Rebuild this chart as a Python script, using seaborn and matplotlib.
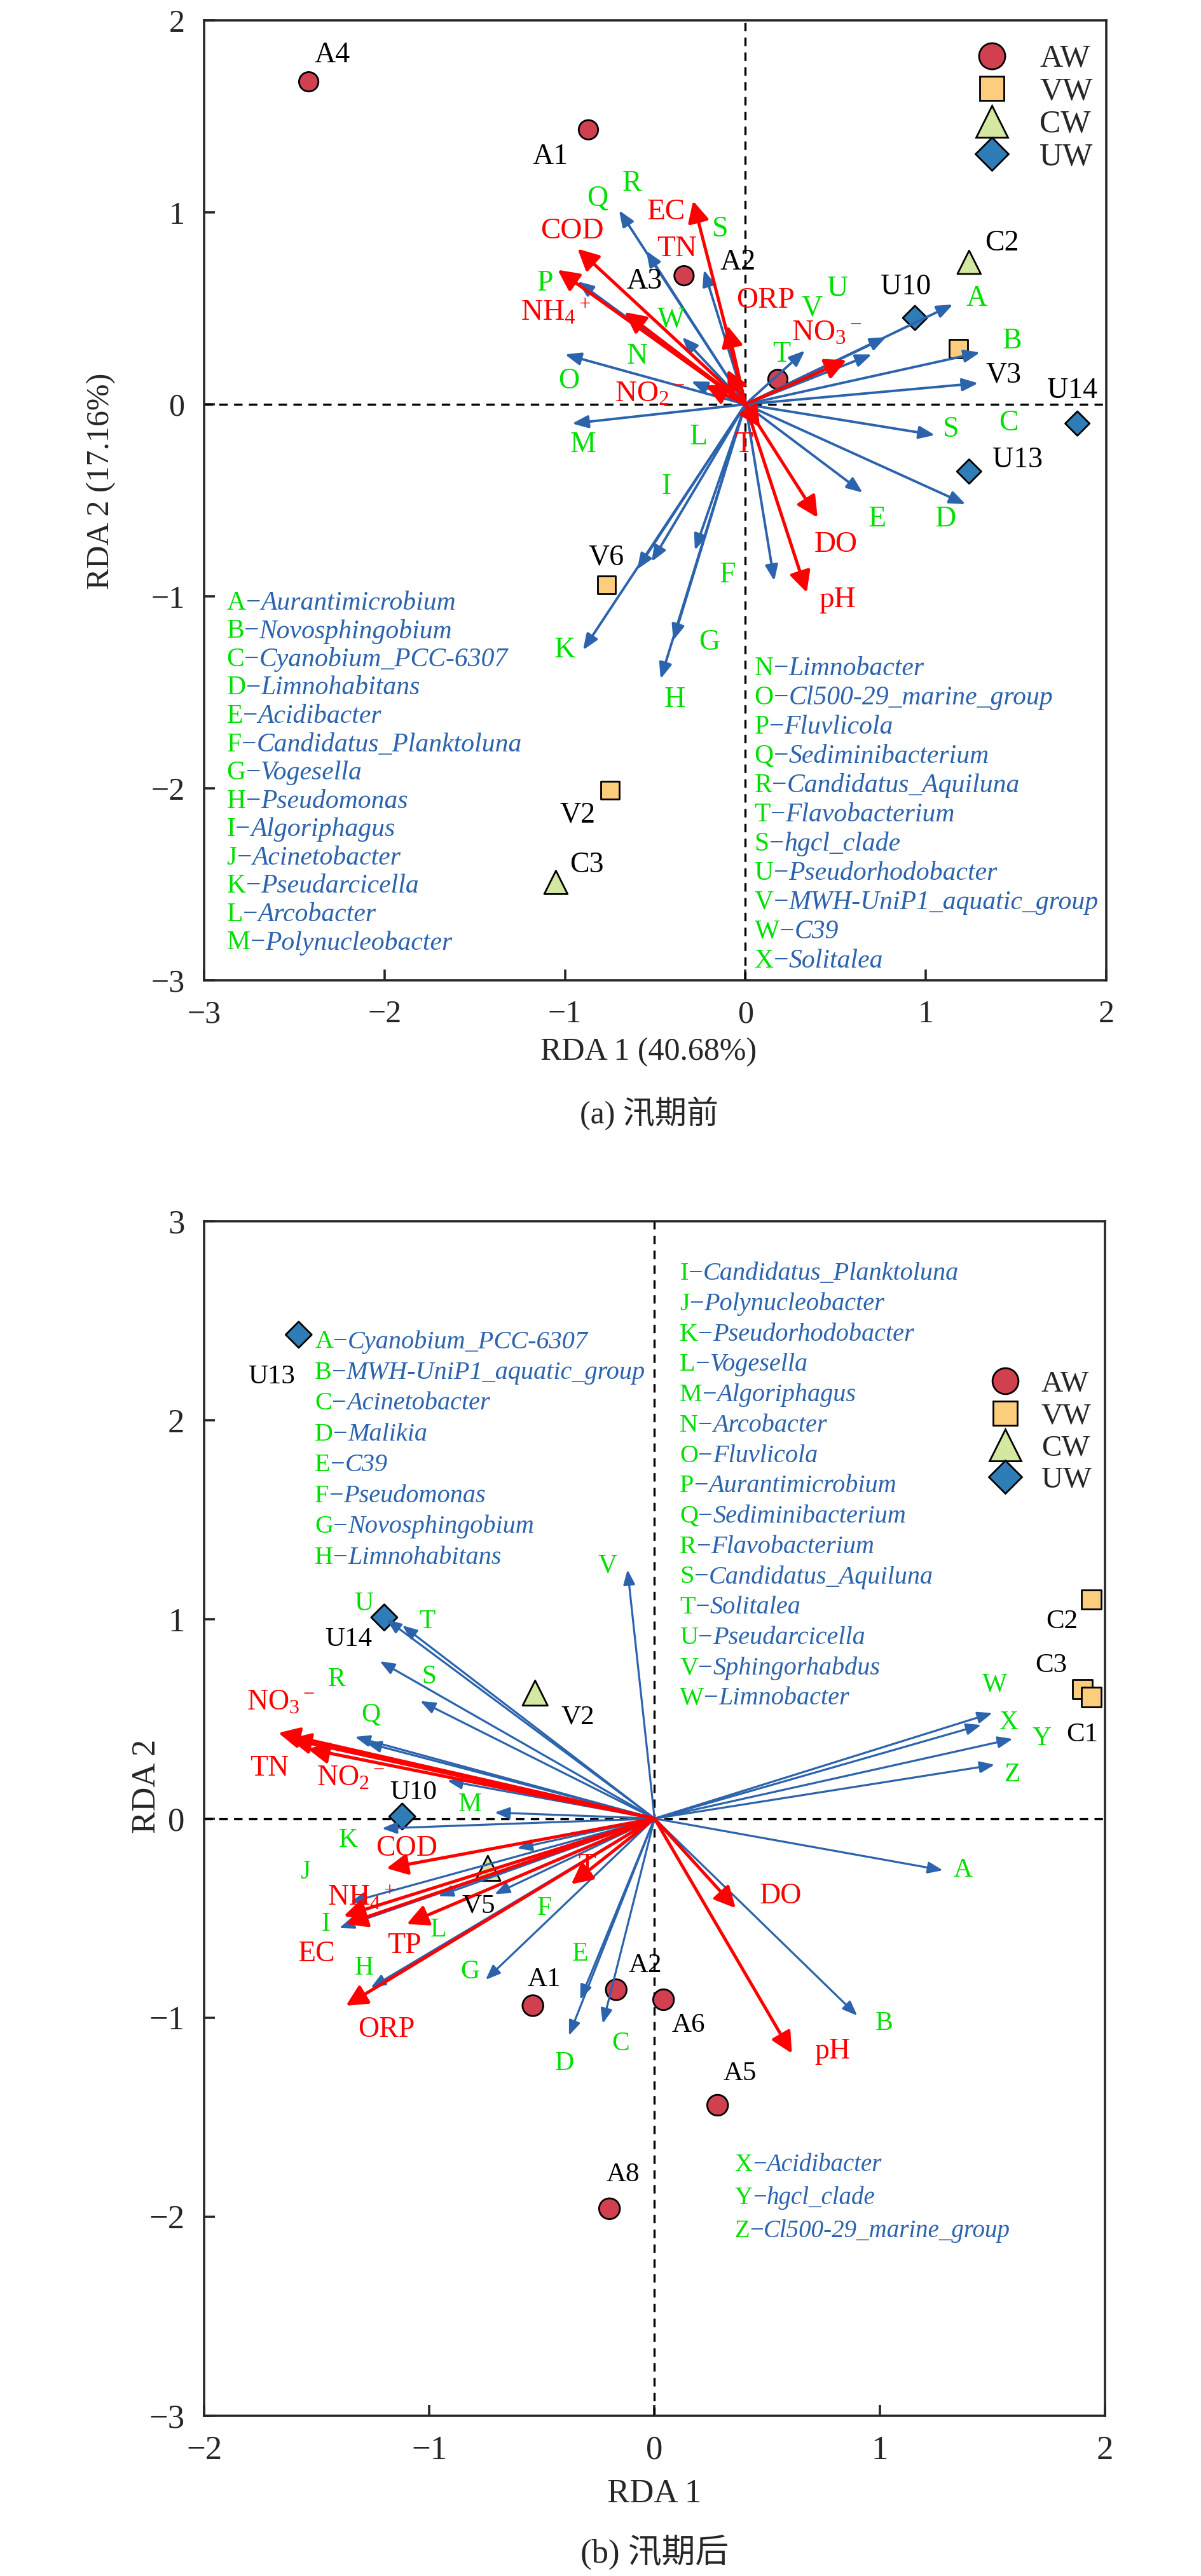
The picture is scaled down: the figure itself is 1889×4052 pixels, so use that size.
import numpy as np
import pandas as pd
import matplotlib
matplotlib.use("Agg")
import matplotlib.pyplot as plt
import seaborn as sns

# ── data: panel (a) 汛期前 ───────────────────────────────────────────────────
a_site  = ["A4", "A1", "A3", "A2", "C2", "U10", "V3", "U14", "U13", "V6", "V2", "C3"]
a_group = ["AW", "AW", "AW", "AW", "CW", "UW", "VW", "UW", "UW", "VW", "VW", "CW"]
a_x     = [-2.42, -0.87, -0.34, 0.18, 1.24, 0.94, 1.18, 1.84, 1.24, -0.77, -0.75, -1.05]
a_y     = [1.68, 1.43, 0.67, 0.13, 0.74, 0.45, 0.29, -0.10, -0.35, -0.94, -2.01, -2.49]

a_sp    = ["A", "B", "C", "D", "E", "F", "G", "H", "I", "J", "K", "L", "M",
           "N", "O", "P", "Q", "R", "S", "T", "U", "V", "W", "S"]
a_sp_x  = [1.15, 1.30, 1.29, 1.22, 0.65, 0.16, -0.28, -0.47, -0.52, -0.60, -0.90, -0.40, -0.96,
           -0.30, -1.00, -0.93, -0.70, -0.55, -0.23, 0.33, 0.70, 0.78, -0.35, 1.05]
a_sp_y  = [0.52, 0.27, 0.11, -0.52, -0.46, -0.92, -0.76, -1.43, -0.82, -0.86, -1.28, -1.23, -0.10,
           0.12, 0.26, 0.64, 1.01, 0.80, 0.70, 0.28, 0.26, 0.35, 0.35, -0.16]

a_env   = ["COD", "EC", "TN", "NH$_4$$^+$", "ORP", "NO$_3$$^-$", "NO$_2$$^-$", "T", "DO", "pH", ""]
a_env_x = [-0.93, -0.29, -0.67, -1.04, -0.10, 0.56, -0.22, 0.08, 0.40, 0.34, -0.10]
a_env_y = [0.81, 1.06, 0.48, 0.70, 0.41, 0.23, 0.10, -0.12, -0.59, -0.98, 0.18]

a_list1_letters = list("ABCDEFGHIJKLM")
a_list1_names = ["Aurantimicrobium", "Novosphingobium", "Cyanobium_PCC-6307", "Limnohabitans",
                 "Acidibacter", "Candidatus_Planktoluna", "Vogesella", "Pseudomonas",
                 "Algoriphagus", "Acinetobacter", "Pseudarcicella", "Arcobacter",
                 "Polynucleobacter"]
a_list2_letters = list("NOPQRTSUVWX")
a_list2_names = ["Limnobacter", "Cl500-29_marine_group", "Fluvlicola", "Sediminibacterium",
                 "Candidatus_Aquiluna", "Flavobacterium", "hgcl_clade", "Pseudorhodobacter",
                 "MWH-UniP1_aquatic_group", "C39", "Solitalea"]

# ── data: panel (b) 汛期后 ───────────────────────────────────────────────────
b_site  = ["U13", "U14", "V2", "U10", "V5", "A1", "A2", "A6", "A5", "C3", "C1", "C2", "A8"]
b_group = ["UW", "UW", "CW", "UW", "CW", "AW", "AW", "AW", "AW", "VW", "VW", "VW", "AW"]
b_x     = [-1.58, -1.20, -0.53, -1.12, -0.74, -0.54, -0.17, 0.04, 0.28, 1.90, 1.94, 1.94, -0.20]
b_y     = [2.43, 1.01, 0.63, 0.01, -0.25, -0.94, -0.86, -0.91, -1.44, 0.65, 0.61, 1.10, -1.96]

b_sp    = list("ABCDEFGHIJKLMNOPQRSTUVWXYZ")
b_sp_x  = [1.28, 0.90, -0.23, -0.38, -0.33, -0.71, -0.75, -1.26, -1.40, -1.35, -1.21, -0.96, -0.71,
           -0.61, -0.92, -1.28, -1.33, -1.22, -1.04, -1.12, -1.19, -0.12, 1.50, 1.45, 1.59, 1.51]
b_sp_y  = [-0.26, -0.99, -1.03, -1.09, -0.91, -0.38, -0.81, -0.85, -0.55, -0.42, -0.05, -0.39, 0.03,
           -0.15, 0.19, 0.38, 0.41, 0.79, 0.59, 0.97, 1.00, 1.25, 0.53, 0.47, 0.40, 0.27]

b_env   = ["NO$_3$$^-$", "TN", "NO$_2$$^-$", "COD", "NH$_4$$^+$", "EC", "TP", "ORP", "T", "DO", "pH"]
b_env_x = [-1.67, -1.54, -1.62, -1.19, -1.38, -1.37, -1.10, -1.37, -0.37, 0.36, 0.61]
b_env_y = [0.43, 0.35, 0.40, -0.25, -0.49, -0.53, -0.53, -0.94, -0.33, -0.45, -1.18]

b_list1_letters = list("ABCDEFGH")
b_list1_names = ["Cyanobium_PCC-6307", "MWH-UniP1_aquatic_group", "Acinetobacter", "Malikia",
                 "C39", "Pseudomonas", "Novosphingobium", "Limnohabitans"]
b_list2_letters = list("IJKLMNOPQRSTUVW")
b_list2_names = ["Candidatus_Planktoluna", "Polynucleobacter", "Pseudorhodobacter", "Vogesella",
                 "Algoriphagus", "Arcobacter", "Fluvlicola", "Aurantimicrobium",
                 "Sediminibacterium", "Flavobacterium", "Candidatus_Aquiluna", "Solitalea",
                 "Pseudarcicella", "Sphingorhabdus", "Limnobacter"]
b_list3_letters = list("XYZ")
b_list3_names = ["Acidibacter", "hgcl_clade", "Cl500-29_marine_group"]

groups = ["AW", "VW", "CW", "UW"]

# ── layout: label placement (data coords) ───────────────────────────────────
a_site_lab = {"A4": (-2.29, 1.82), "A1": (-1.08, 1.29), "A3": (-0.56, 0.64), "A2": (-0.04, 0.74),
              "C2": (1.42, 0.84), "U10": (0.89, 0.61), "V3": (1.43, 0.15), "U14": (1.81, 0.07),
              "U13": (1.51, -0.29), "V6": (-0.77, -0.80), "V2": (-0.93, -2.14), "C3": (-0.88, -2.40)}
a_sp_lab = [(1.28, 0.55), (1.48, 0.33), (1.46, -0.10), (1.11, -0.60), (0.73, -0.60), (-0.10, -0.89),
            (-0.20, -1.24), (-0.39, -1.54), (-0.44, -0.43), None, (-1.00, -1.28), (-0.26, -0.17),
            (-0.90, -0.21), (-0.60, 0.25), (-0.98, 0.12), (-1.11, 0.63), (-0.82, 1.07), (-0.63, 1.15),
            (-0.14, 0.91), (0.20, 0.26), (0.51, 0.60), (0.37, 0.50), (-0.41, 0.44), (1.14, -0.13)]
a_env_lab = [(-0.96, 0.90), (-0.44, 1.00), (-0.38, 0.81), (-1.05, 0.48), (0.11, 0.54), (0.45, 0.37),
             (-0.53, 0.05), (-0.01, -0.21), (0.50, -0.73), (0.51, -1.02), None]

b_site_lab = {"U13": (-1.70, 2.22), "U14": (-1.36, 0.90), "V2": (-0.34, 0.51), "U10": (-1.07, 0.13),
              "V5": (-0.78, -0.44), "A1": (-0.49, -0.81), "A2": (-0.04, -0.74), "A6": (0.15, -1.04),
              "A5": (0.38, -1.28), "C3": (1.76, 0.77), "C1": (1.90, 0.42), "C2": (1.81, 0.99),
              "A8": (-0.14, -1.79)}
b_sp_lab = [(1.37, -0.26), (1.02, -1.03), (-0.15, -1.13), (-0.40, -1.23), (-0.33, -0.68), (-0.49, -0.45),
            (-0.82, -0.77), (-1.29, -0.75), (-1.46, -0.53), (-1.55, -0.27), (-1.36, -0.11), (-0.96, -0.56),
            (-0.82, 0.07), None, None, None, (-1.26, 0.52), (-1.41, 0.70), (-1.00, 0.71), (-1.01, 0.99),
            (-1.29, 1.08), (-0.21, 1.27), (1.51, 0.67), (1.57, 0.48), (1.72, 0.40), (1.59, 0.22)]
b_env_lab = [(-1.66, 0.58), (-1.71, 0.25), (-1.35, 0.20), (-1.10, -0.15), (-1.30, -0.40), (-1.50, -0.68),
             (-1.11, -0.64), (-1.19, -1.06), (-0.30, -0.24), (0.56, -0.39), (0.79, -1.17)]

# ── style ────────────────────────────────────────────────────────────────────
sns.set_style("ticks")
plt.rcParams["font.family"] = ["Liberation Serif", "Noto Sans CJK SC"]
plt.rcParams["mathtext.fontset"] = "custom"
plt.rcParams["mathtext.rm"] = "Liberation Serif"
plt.rcParams["mathtext.it"] = "Liberation Serif:italic"
plt.rcParams["axes.unicode_minus"] = True

GREEN = "#00E000"
BLUE = "#2B63AC"
RED = "#FF0000"
palette = {"AW": "#D1404F", "VW": "#FDCD7E", "CW": "#D3E8A1", "UW": "#2F7DB6"}
markers = {"AW": "o", "VW": "s", "CW": "^", "UW": "D"}
msizes = {"AW": 480, "VW": 420, "CW": 700, "UW": 380}


def draw_arrows(ax, xs, ys, color, lw, hl, hw, z):
    for x, y in zip(xs, ys):
        ax.annotate("", xy=(x, y), xytext=(0, 0), zorder=z,
                    arrowprops=dict(arrowstyle=f"-|>,head_length={hl},head_width={hw}",
                                    color=color, lw=lw, shrinkA=0, shrinkB=0,
                                    mutation_scale=10))


def labels(ax, texts, pos, color, fs):
    for t, p in zip(texts, pos):
        if p is None or not t:
            continue
        ax.text(p[0], p[1], t, color=color, fontsize=fs, ha="center", va="center", zorder=7)


def species_list(ax, letters, names, x0, y0, dy, fs):
    for i, (let, name) in enumerate(zip(letters, names)):
        t = ax.text(x0, y0 - i * dy, let, transform=ax.transAxes, color=GREEN,
                    fontsize=fs, ha="left", va="center", zorder=7)
        d = ax.annotate("\u2212", xy=(1, 0.5), xycoords=t, color=BLUE, fontsize=fs,
                        ha="left", va="center", zorder=7)
        ax.annotate(name, xy=(1, 0.5), xycoords=d, color=BLUE, fontsize=fs,
                    style="italic", ha="left", va="center", zorder=7)


def base_axes(ax, xlim, ylim, fs):
    ax.axhline(0, color="black", lw=2.4, ls=(0, (4, 3)), zorder=1)
    ax.axvline(0, color="black", lw=2.4, ls=(0, (4, 3)), zorder=1)
    ax.set_xlim(*xlim)
    ax.set_ylim(*ylim)
    ax.set_xticks(np.arange(xlim[0], xlim[1] + 1))
    ax.set_yticks(np.arange(ylim[0], ylim[1] + 1))
    for s in ax.spines.values():
        s.set_linewidth(2.6)
        s.set_visible(True)
    ax.tick_params(direction="in", length=12, width=2.6, labelsize=fs, pad=22,
                   top=False, right=False)


fig = plt.figure(figsize=(18.9, 40.52), dpi=100)
W, H = 1890, 4052
ax_a = fig.add_axes([321 / W, 1 - 1542 / H, 1419 / W, 1510 / H])
ax_b = fig.add_axes([321 / W, 1 - 3800 / H, 1417 / W, 1879 / H])

# ── panel (a) ────────────────────────────────────────────────────────────────
base_axes(ax_a, (-3, 2), (-3, 2), 36)
df_a = pd.DataFrame({"x": a_x, "y": a_y, "group": a_group, "site": a_site})
sns.scatterplot(data=df_a, x="x", y="y", hue="group", style="group", size="group",
                hue_order=groups, style_order=groups, size_order=groups,
                palette=palette, markers=markers, sizes=msizes,
                edgecolor="black", linewidth=2, ax=ax_a, zorder=3)
draw_arrows(ax_a, a_sp_x, a_sp_y, BLUE, 2.8, 1.5, 0.6, 4)
draw_arrows(ax_a, a_env_x, a_env_y, RED, 3.6, 2.0, 1.0, 5)
for s in a_site:
    p = a_site_lab[s]
    ax_a.text(p[0], p[1], s, color="black", fontsize=33, ha="center", va="center", zorder=7)
labels(ax_a, a_sp, a_sp_lab, GREEN, 33)
labels(ax_a, a_env, a_env_lab, RED, 34)
species_list(ax_a, a_list1_letters, a_list1_names, 0.025, 0.393, 0.0295, 30)
species_list(ax_a, a_list2_letters, a_list2_names, 0.610, 0.325, 0.0305, 30)
sns.move_legend(ax_a, "upper right", bbox_to_anchor=(0.985, 0.975), frameon=False,
                title=None, fontsize=36, labelspacing=0.1, handletextpad=0.5,
                borderaxespad=0, borderpad=0, markerscale=1.35)
ax_a.set_xlabel("RDA 1 (40.68%)", fontsize=36)
ax_a.set_ylabel("RDA 2 (17.16%)", fontsize=36)
ax_a.xaxis.label.set_va("center")
ax_a.yaxis.label.set_va("center")
ax_a.xaxis.set_label_coords(0.493, -0.075)
ax_a.yaxis.set_label_coords(-0.114, 0.52)
fig.text(0.54, 1 - 1752 / H, "(a) 汛期前", fontsize=36, ha="center", va="center")

# ── panel (b) ────────────────────────────────────────────────────────────────
base_axes(ax_b, (-2, 2), (-3, 3), 38)
df_b = pd.DataFrame({"x": b_x, "y": b_y, "group": b_group, "site": b_site})
sns.scatterplot(data=df_b, x="x", y="y", hue="group", style="group", size="group",
                hue_order=groups, style_order=groups, size_order=groups,
                palette=palette, markers=markers,
                sizes={k: v * 1.15 for k, v in msizes.items()},
                edgecolor="black", linewidth=2, ax=ax_b, zorder=3)
draw_arrows(ax_b, b_sp_x, b_sp_y, BLUE, 2.3, 1.4, 0.55, 4)
draw_arrows(ax_b, b_env_x, b_env_y, RED, 3.6, 2.0, 1.0, 5)
for s in b_site:
    p = b_site_lab[s]
    ax_b.text(p[0], p[1], s, color="black", fontsize=31, ha="center", va="center", zorder=7)
labels(ax_b, b_sp, b_sp_lab, GREEN, 30)
labels(ax_b, b_env, b_env_lab, RED, 33)
species_list(ax_b, b_list1_letters, b_list1_names, 0.123, 0.899, 0.0258, 29)
species_list(ax_b, b_list2_letters, b_list2_names, 0.528, 0.956, 0.0254, 29)
species_list(ax_b, b_list3_letters, b_list3_names, 0.589, 0.210, 0.0277, 28)
sns.move_legend(ax_b, "upper right", bbox_to_anchor=(0.985, 0.875), frameon=False,
                title=None, fontsize=34, labelspacing=0.15, handletextpad=0.2,
                borderaxespad=0, borderpad=0, markerscale=1.25)
ax_b.set_xlabel("RDA 1", fontsize=38)
ax_b.set_ylabel("RDA 2", fontsize=38)
ax_b.xaxis.label.set_va("center")
ax_b.yaxis.label.set_va("center")
ax_b.xaxis.set_label_coords(0.5, -0.0655)
ax_b.yaxis.set_label_coords(-0.0635, 0.527)
fig.text(0.545, 1 - 4015 / H, "(b) 汛期后", fontsize=38, ha="center", va="center")

fig.savefig("out.png", dpi=100, facecolor="white")
